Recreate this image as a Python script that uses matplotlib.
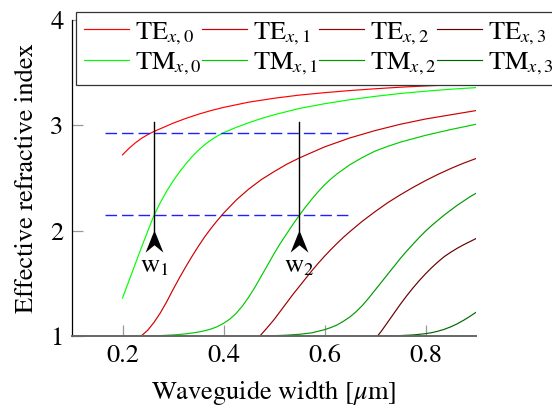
import matplotlib
matplotlib.use('Agg')
import matplotlib.pyplot as plt
from matplotlib.path import Path

plt.rcParams['font.family'] = ['STIXGeneral', 'DejaVu Serif']
plt.rcParams['mathtext.fontset'] = 'stix'

# mode curves (width in um, effective index)
te0_x = [0.2, 0.2125, 0.225, 0.2375, 0.25, 0.2625, 0.275, 0.3, 0.325, 0.35, 0.375, 0.4, 0.45, 0.5,
         0.55, 0.6, 0.65, 0.7, 0.75, 0.8, 0.85, 0.9]
te0_y = [2.72, 2.78, 2.832, 2.876, 2.912, 2.942, 2.968, 3.02, 3.065, 3.105, 3.14, 3.17, 3.22, 3.257,
         3.287, 3.31, 3.33, 3.347, 3.362, 3.374, 3.384, 3.393]

tm0_x = [0.2, 0.2125, 0.225, 0.2375, 0.25, 0.2625, 0.275, 0.2875, 0.3, 0.3125, 0.325, 0.3375, 0.35,
         0.3625, 0.375, 0.3875, 0.4, 0.425, 0.45, 0.475, 0.5, 0.55, 0.6, 0.65, 0.7, 0.75, 0.8, 0.85, 0.9]
tm0_y = [1.36, 1.52, 1.68, 1.84, 1.995, 2.147, 2.268, 2.375, 2.47, 2.555, 2.632, 2.701, 2.762,
         2.815, 2.86, 2.898, 2.93, 2.98, 3.025, 3.065, 3.10, 3.16, 3.205, 3.243, 3.275, 3.302, 3.324, 3.343, 3.358]

te1_x = [0.237, 0.25, 0.2625, 0.275, 0.2875, 0.3, 0.3125, 0.325, 0.3375, 0.35, 0.3625, 0.375, 0.3875,
         0.4, 0.425, 0.45, 0.475, 0.5, 0.525, 0.55, 0.6, 0.65, 0.7, 0.75, 0.8, 0.85, 0.9]
te1_y = [1.0, 1.055, 1.13, 1.22, 1.325, 1.44, 1.55, 1.655, 1.755, 1.85, 1.94, 2.02, 2.095,
         2.165, 2.29, 2.395, 2.485, 2.56, 2.63, 2.69, 2.795, 2.88, 2.95, 3.01, 3.06, 3.10, 3.14]

tm1_x = [0.237, 0.275, 0.3, 0.325, 0.35, 0.3625, 0.375, 0.3875, 0.4, 0.4125, 0.425, 0.4375, 0.45,
         0.4625, 0.475, 0.4875, 0.5, 0.5125, 0.525, 0.5375, 0.55, 0.5625, 0.575, 0.5875, 0.6, 0.6125,
         0.625, 0.65, 0.675, 0.7, 0.725, 0.75, 0.8, 0.85, 0.9]
tm1_y = [1.0, 1.004, 1.01, 1.02, 1.037, 1.05, 1.066, 1.088, 1.12, 1.16, 1.215, 1.285, 1.37,
         1.465, 1.57, 1.675, 1.78, 1.88, 1.97, 2.06, 2.145, 2.225, 2.30, 2.37, 2.435, 2.49,
         2.54, 2.625, 2.695, 2.755, 2.80, 2.84, 2.905, 2.96, 3.01]

te2_x = [0.472, 0.485, 0.5, 0.5125, 0.525, 0.5375, 0.55, 0.5625, 0.575, 0.5875, 0.6, 0.6125, 0.625,
         0.6375, 0.65, 0.675, 0.7, 0.725, 0.75, 0.775, 0.8, 0.825, 0.85, 0.875, 0.9]
te2_y = [1.0, 1.07, 1.155, 1.235, 1.315, 1.395, 1.47, 1.545, 1.62, 1.69, 1.757, 1.82, 1.88,
         1.937, 1.99, 2.09, 2.18, 2.265, 2.34, 2.41, 2.475, 2.535, 2.59, 2.64, 2.685]

tm2_x = [0.472, 0.5, 0.525, 0.55, 0.575, 0.6, 0.6125, 0.625, 0.6375, 0.65, 0.6625, 0.675, 0.6875,
         0.7, 0.7125, 0.725, 0.7375, 0.75, 0.7625, 0.775, 0.7875, 0.8, 0.8125, 0.825, 0.8375, 0.85,
         0.8625, 0.875, 0.8875, 0.9]
tm2_y = [1.0, 1.003, 1.008, 1.016, 1.03, 1.06, 1.08, 1.105, 1.14, 1.18, 1.23, 1.29, 1.36,
         1.435, 1.51, 1.585, 1.66, 1.735, 1.805, 1.87, 1.935, 1.995, 2.05, 2.10, 2.15, 2.195,
         2.24, 2.28, 2.32, 2.355]

te3_x = [0.705, 0.7125, 0.725, 0.7375, 0.75, 0.7625, 0.775, 0.7875, 0.8, 0.8125, 0.825, 0.8375,
         0.85, 0.8625, 0.875, 0.8875, 0.9]
te3_y = [1.0, 1.045, 1.13, 1.215, 1.30, 1.38, 1.455, 1.525, 1.59, 1.65, 1.705, 1.755,
         1.795, 1.832, 1.865, 1.895, 1.925]

tm3_x = [0.705, 0.75, 0.775, 0.8, 0.8125, 0.825, 0.8375, 0.85, 0.8625, 0.875, 0.8875, 0.9]
tm3_y = [1.0, 1.004, 1.01, 1.022, 1.032, 1.046, 1.064, 1.087, 1.115, 1.148, 1.185, 1.225]

te_labels = [r'TE$_{x,0}$', r'TE$_{x,1}$', r'TE$_{x,2}$', r'TE$_{x,3}$']
tm_labels = [r'TM$_{x,0}$', r'TM$_{x,1}$', r'TM$_{x,2}$', r'TM$_{x,3}$']
te_colors = ['#ff0000', '#cc0000', '#990000', '#660000']
tm_colors = ['#00ff00', '#00cc00', '#009900', '#006600']

levels = [2.93, 2.145]          # dashed target indices
widths = [0.2625, 0.55]         # marked widths w1, w2
width_labels = [r'$\mathrm{w}_1$', r'$\mathrm{w}_2$']

te_x = [te0_x, te1_x, te2_x, te3_x]
te_y = [te0_y, te1_y, te2_y, te3_y]
tm_x = [tm0_x, tm1_x, tm2_x, tm3_x]
tm_y = [tm0_y, tm1_y, tm2_y, tm3_y]

fs = 19
fig = plt.figure(figsize=(5.52, 4.07), dpi=100)
ax = fig.add_axes([72/552, 1-336/407, (476-72)/552, (336-20)/407])

handles = []
for i in range(4):
    h1, = ax.plot(te_x[i], te_y[i], color=te_colors[i], lw=0.85, label=te_labels[i])
    h2, = ax.plot(tm_x[i], tm_y[i], color=tm_colors[i], lw=0.85, label=tm_labels[i])
    handles += [h1, h2]

for lv in levels:
    ax.plot([0.165, 0.65], [lv, lv], color='#2020ff', lw=1.0, dashes=(8.3, 3.6))

stealth = Path([(0, 0.5), (0.4, -0.5), (0, -0.17), (-0.4, -0.5), (0, 0.5)],
               [Path.MOVETO, Path.LINETO, Path.LINETO, Path.LINETO, Path.CLOSEPOLY])
for w, lab in zip(widths, width_labels):
    ax.plot([w, w], [2.0, 3.035], color='black', lw=1.0)
    ax.plot([w], [1.902], marker=stealth, markersize=16, color='black', mew=0, ls='none')
    ax.text(w, 1.66, lab, ha='center', va='center', fontsize=fs)

ax.set_xlim(0.1, 0.9)
ax.set_ylim(1, 4)
ax.set_xticks([0.2, 0.4, 0.6, 0.8])
ax.set_yticks([1, 2, 3, 4])
ax.tick_params(direction='in', length=8, width=0.9, color='#999999', labelsize=fs, pad=6)
ax.spines['top'].set_visible(False)
ax.spines['right'].set_visible(False)
ax.spines['left'].set_linewidth(0.9)
ax.spines['bottom'].set_color('#666666')
ax.spines['bottom'].set_linewidth(1.4)

ax.set_xlabel(r'Waveguide width [$\mu$m]', fontsize=fs, labelpad=7)
ax.set_ylabel('Effective refractive index', fontsize=fs, labelpad=8)

leg = ax.legend(handles=handles, ncol=4, loc='upper left', bbox_to_anchor=(76/552, 1-12/407),
                bbox_transform=fig.transFigure, borderaxespad=0, fontsize=fs,
                handlelength=1.7, handletextpad=0.22, columnspacing=0.05,
                labelspacing=0.15, borderpad=0.3, fancybox=False, framealpha=1)
leg.get_frame().set_edgecolor('#333333')
leg.get_frame().set_linewidth(0.9)

fig.savefig('out.png', dpi=100)
